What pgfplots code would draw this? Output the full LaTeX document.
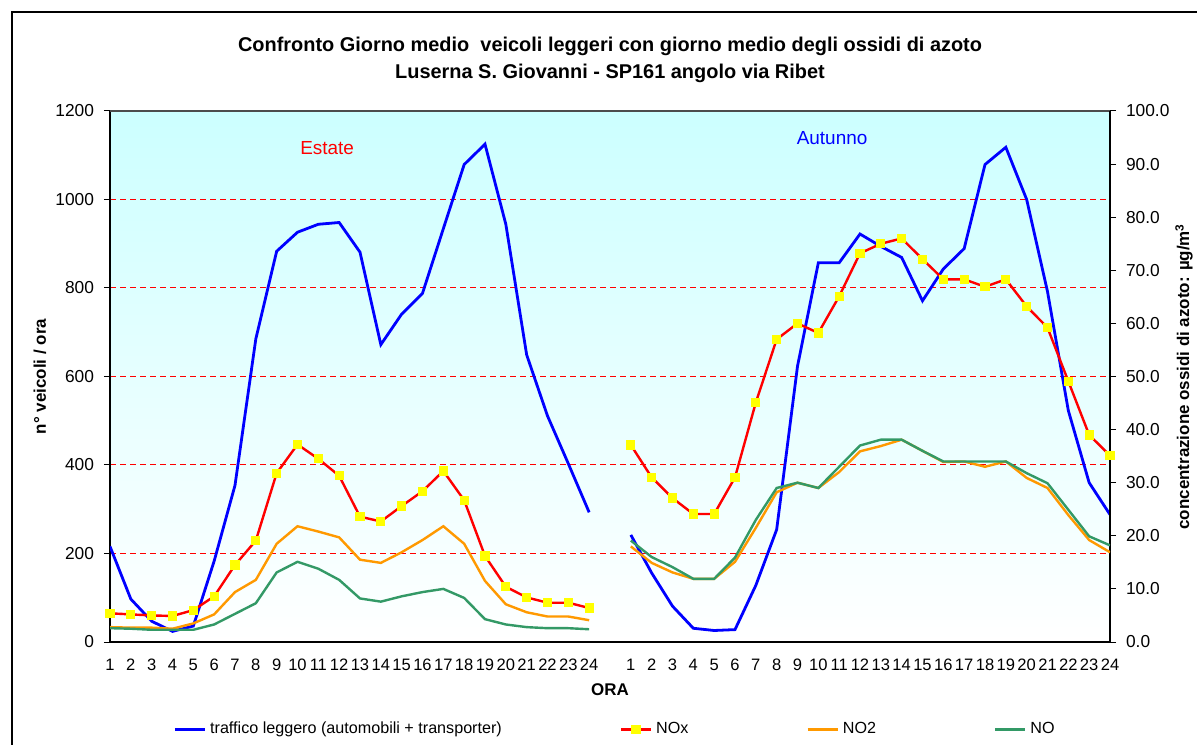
\documentclass[border=0pt]{standalone}
\usepackage{pgfplots}
\pgfplotsset{compat=1.18}
\usepackage{pgfplotstable}
\usepackage{fontspec}
\setmainfont{Liberation Sans}

\definecolor{traffico}{RGB}{0,0,255}
\definecolor{nox}{RGB}{255,0,0}
\definecolor{noxmark}{RGB}{255,255,0}
\definecolor{notwo}{RGB}{255,153,0}
\definecolor{nomono}{RGB}{51,153,102}
\definecolor{sfondo}{RGB}{204,255,255}

% x: 0-23 = Estate ore 1-24, 24 = vuoto, 25-48 = Autunno ore 1-24
\pgfplotstableread{
x  veicoli  NOx   NO2   NO
0   216   5.4   2.8   2.6
1   97    5.2   2.7   2.5
2   47    5.0   2.7   2.3
3   24    4.9   2.5   2.3
4   36    6.0   3.5   2.3
5   183   8.6   5.2   3.3
6   354   14.5  9.4   5.3
7   685   19.1  11.7  7.3
8   883   31.8  18.5  13.1
9   926   37.2  21.8  15.1
10  944   34.5  20.8  13.8
11  948   31.3  19.7  11.7
12  881   23.6  15.5  8.2
13  672   22.7  14.9  7.6
14  741   25.6  16.9  8.6
15  788   28.4  19.2  9.4
16  934   32.2  21.8  10.0
17  1079  26.7  18.5  8.3
18  1125  16.2  11.5  4.3
19  944   10.4  7.1   3.3
20  649   8.4   5.6   2.8
21  511   7.4   4.8   2.6
22  403   7.4   4.8   2.6
23  293   6.4   4.1   2.4
24  nan   nan   nan   nan
25  242   37.1  18.0  19.1
26  156   31.0  14.9  16.0
27  81    27.1  13.1  14.1
28  31    24.1  11.9  11.9
29  26    24.1  11.9  11.9
30  28    31.0  15.1  15.9
31  128   45.1  21.5  23.0
32  254   57.0  28.2  29.0
33  623   60.0  30.0  30.0
34  857   58.2  29.0  29.0
35  857   65.1  32.0  33.0
36  922   73.2  35.9  37.0
37  894   75.0  36.9  38.1
38  869   76.0  38.1  38.1
39  771   72.1  36.0  36.0
40  843   68.3  33.9  34.0
41  889   68.3  34.0  34.0
42  1079  66.9  33.0  34.0
43  1118  68.3  34.0  34.0
44  1000  63.2  30.9  31.8
45  792   59.2  29.0  29.9
46  523   49.1  23.9  24.9
47  360   39.0  19.2  19.9
48  288   35.1  16.9  18.2
}\dati

\pgfplotsset{
  comune/.style={
    at={(55bp,51.5bp)}, anchor=south west,
    scale only axis, width=500bp, height=265.5bp,
    xmin=0, xmax=48,
    unbounded coords=jump,
    tick align=outside,
    major tick length=3bp,
    tick style={black, line width=0.5bp},
    axis line style={black, line width=0.8bp},
    tick label style={font=\fontsize{8.7}{10}\selectfont},
    /pgf/number format/assume math mode=true,
    /pgf/number format/1000 sep={},
  }
}

\begin{document}
\begin{tikzpicture}
\useasboundingbox (0,0) rectangle (598.5bp,372.5bp);

\begin{axis}[
  comune,
  ymin=0, ymax=1200,
  axis x line*=bottom, axis y line*=left,
  axis background/.style={top color=sfondo, bottom color=white},
  xtick={0,...,23,25,26,...,48},
  xticklabels={1,2,3,4,5,6,7,8,9,10,11,12,13,14,15,16,17,18,19,20,21,22,23,24,
               1,2,3,4,5,6,7,8,9,10,11,12,13,14,15,16,17,18,19,20,21,22,23,24},
  xtick style={draw=none},
  xticklabel style={yshift=-2bp, font=\fontsize{8.3}{10}\selectfont},
  yticklabel style={xshift=-1.5bp},
  ytick={0,200,...,1200},
  ymajorgrids,
  major grid style={nox, line width=0.5bp, dash pattern=on 3bp off 2bp},
  xlabel={ORA},
  xlabel style={at={(axis description cs:0.5,0)}, anchor=center, yshift=-24bp,
                font=\bfseries\fontsize{8.5}{10}\selectfont},
  ylabel={n° veicoli / ora},
  ylabel style={at={([xshift=-35bp]axis description cs:0,0.5)}, anchor=center,
                font=\bfseries\fontsize{8.5}{10}\selectfont},
  title={Confronto Giorno medio\ \ veicoli leggeri con giorno medio degli ossidi di azoto\\
         Luserna S. Giovanni - SP161 angolo via Ribet},
  title style={at={(axis description cs:0.5,1)}, anchor=south, yshift=8bp,
               align=center, inner sep=0pt,
               font=\bfseries\fontsize{10}{13.5}\selectfont},
]
\addplot[traffico, line width=1.4bp] table[x=x, y=veicoli]{\dati};
\node[text=nox, font=\fontsize{9.5}{11}\selectfont] at (axis cs:10.42,1116) {Estate};
\node[text=traffico, font=\fontsize{9.5}{11}\selectfont] at (axis cs:34.66,1139) {Autunno};
\draw[gray!60!black, line width=0.6bp] (rel axis cs:0,1) -- (rel axis cs:1,1);
\end{axis}

\begin{axis}[
  comune,
  ymin=0, ymax=100,
  axis x line=none, axis y line*=right,
  ytick={0,10,...,100},
  yticklabel style={xshift=1.5bp, /pgf/number format/.cd, fixed, fixed zerofill, precision=1},
  ylabel={concentrazione ossidi di azoto: µg/m\textsuperscript{3}},
  ylabel style={at={([xshift=37bp]axis description cs:1,0.5)}, anchor=center,
                font=\bfseries\fontsize{8.5}{10}\selectfont},
  legend style={at={([xshift=3bp]axis description cs:0.5,-0.165)}, anchor=center,
                draw=none, fill=none, legend columns=4,
                font=\fontsize{8.1}{9.6}\selectfont,
                /tikz/every even column/.append style={column sep=57bp}},
  legend image code/.code={
    \draw[mark repeat=2, mark phase=2, #1]
      plot coordinates {(0bp,0bp) (7.5bp,0bp) (15bp,0bp)};},
]
\addlegendimage{traffico, line width=1.4bp}
\addlegendentry{traffico leggero (automobili + transporter)}
\addplot[nox, line width=1.2bp, mark=square*, mark size=1.7bp,
         mark options={fill=noxmark, draw=noxmark}] table[x=x, y=NOx]{\dati};
\addlegendentry{NOx}
\addplot[notwo, line width=1.2bp] table[x=x, y=NO2]{\dati};
\addlegendentry{NO2}
\addplot[nomono, line width=1.2bp] table[x=x, y=NO]{\dati};
\addlegendentry{NO}
\end{axis}

\draw[black, line width=1.1bp] (6bp,-10bp) -- (6bp,366.5bp) -- (610bp,366.5bp);
\end{tikzpicture}
\end{document}
